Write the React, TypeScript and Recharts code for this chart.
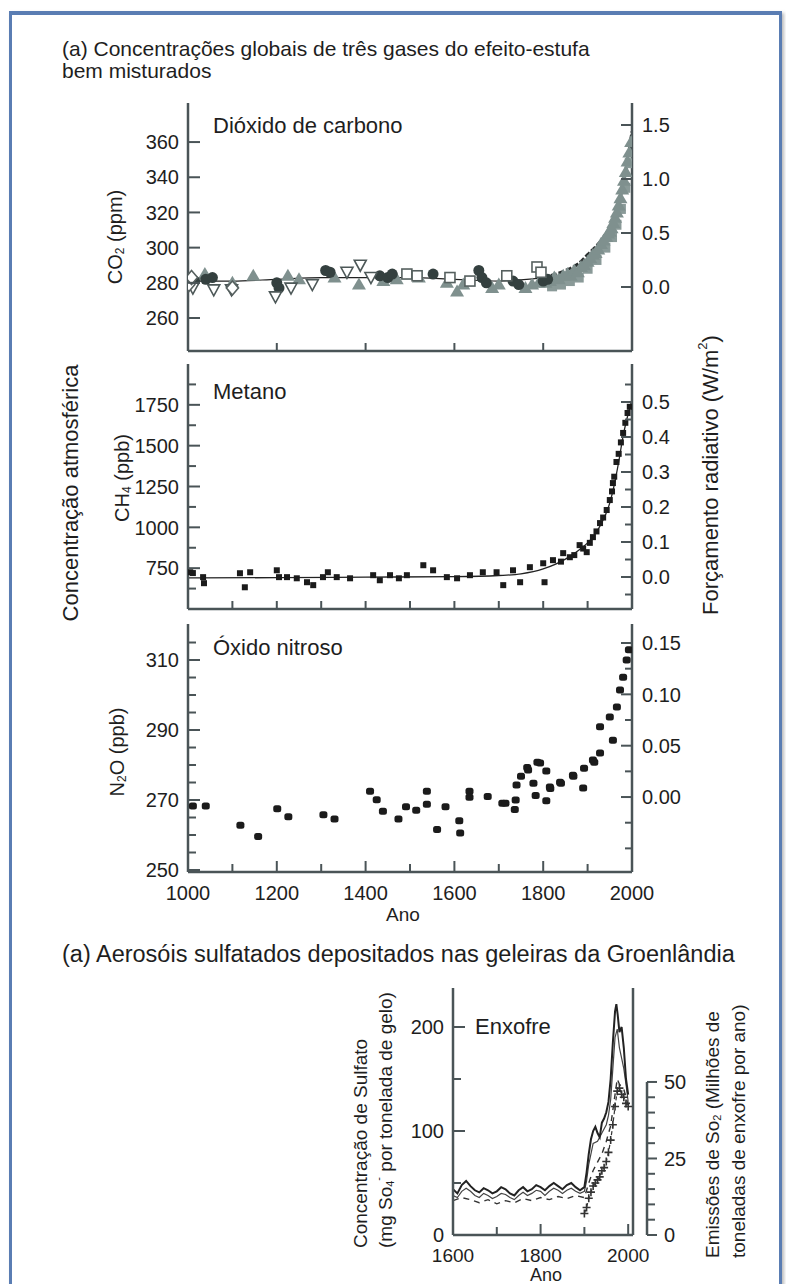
import React from "react";
import { ComposedChart, Line, Scatter, XAxis, YAxis, ReferenceLine } from "recharts";

const FONT = '"Liberation Sans", Arial, Helvetica, sans-serif';
const FRAME = "#4a5457";
const INK = "#1e1e1e";

// ---- ticks / rótulos
const yearLabels = [1000, 1200, 1400, 1600, 1800, 2000];
const ticks200 = [1200, 1400, 1600, 1800];
const ticks100 = [1100, 1200, 1300, 1400, 1500, 1600, 1700, 1800, 1900];
const ticks100Full = [1000, 1100, 1200, 1300, 1400, 1500, 1600, 1700, 1800, 1900, 2000];

const co2Ticks = [260, 280, 300, 320, 340, 360];
const co2RfTicks = [0, 0.5, 1.0, 1.5];
const ch4Ticks = [625, 750, 875, 1000, 1125, 1250, 1375, 1500, 1625, 1750, 1875];
const ch4Labels = [750, 1000, 1250, 1500, 1750];
const ch4RfTicks = [-0.05, 0, 0.05, 0.1, 0.15, 0.2, 0.25, 0.3, 0.35, 0.4, 0.45, 0.5, 0.55];
const ch4RfLabels = [0, 0.1, 0.2, 0.3, 0.4, 0.5];
const n2oTicks = [250, 255, 260, 265, 270, 275, 280, 285, 290, 295, 300, 305, 310, 315];
const n2oLabels = [250, 270, 290, 310];
const n2oRfTicks = [-0.05, -0.025, 0, 0.025, 0.05, 0.075, 0.1, 0.125, 0.15];
const n2oRfLabels = [0, 0.05, 0.1, 0.15];

const sulfYearTicks = [1600, 1700, 1800, 1900, 2000];
const sulfYearLabels = [1600, 1800, 2000];
const sulfTicks = [0, 50, 100, 150, 200];
const sulfLabels = [0, 100, 200];
const so2Ticks = [0, 5, 10, 15, 20, 25, 30, 35, 40, 45, 50];
const so2Labels = [0, 25, 50];

// ---- CO2 (ppm)
const co2Dark = [
  { year: 1015, v: 281 }, { year: 1040, v: 282 }, { year: 1055, v: 283 }, { year: 1200, v: 280 },
  { year: 1205, v: 277 }, { year: 1310, v: 287 }, { year: 1320, v: 286 }, { year: 1432, v: 284 },
  { year: 1450, v: 283 }, { year: 1460, v: 285 }, { year: 1552, v: 285 }, { year: 1655, v: 287 },
  { year: 1662, v: 283 }, { year: 1672, v: 280 }, { year: 1732, v: 281 }, { year: 1745, v: 279 },
  { year: 1800, v: 281 }, { year: 1810, v: 282 },
];
const co2Gray = [
  { year: 1005, v: 281 }, { year: 1038, v: 285 }, { year: 1100, v: 280 }, { year: 1147, v: 284 },
  { year: 1225, v: 284 }, { year: 1250, v: 282 }, { year: 1330, v: 283 }, { year: 1385, v: 279 },
  { year: 1440, v: 281 }, { year: 1470, v: 282 }, { year: 1520, v: 283 }, { year: 1583, v: 280 },
  { year: 1606, v: 275 }, { year: 1620, v: 279 }, { year: 1685, v: 277 }, { year: 1700, v: 279 },
  { year: 1760, v: 277 }, { year: 1775, v: 279 }, { year: 1790, v: 280 },
];
const co2Inv = [
  { year: 1011, v: 277 }, { year: 1058, v: 276 }, { year: 1098, v: 276 }, { year: 1197, v: 272 },
  { year: 1232, v: 277 }, { year: 1280, v: 279 }, { year: 1358, v: 286 }, { year: 1388, v: 290 },
  { year: 1412, v: 283 },
];
const co2Sq = [
  { year: 1493, v: 285 }, { year: 1516, v: 284 }, { year: 1590, v: 283 }, { year: 1635, v: 281 },
  { year: 1718, v: 284 }, { year: 1786, v: 289 }, { year: 1795, v: 286 },
];
const co2Dia = [{ year: 1002, v: 279 }, { year: 1008, v: 283 }, { year: 1100, v: 277 }];
const co2ModernGray = [
  { year: 1805, v: 280 }, { year: 1815, v: 281 }, { year: 1825, v: 283 }, { year: 1835, v: 282 },
  { year: 1845, v: 284 }, { year: 1855, v: 285 }, { year: 1862, v: 284 }, { year: 1870, v: 287 },
  { year: 1878, v: 286 }, { year: 1885, v: 289 }, { year: 1892, v: 290 }, { year: 1900, v: 292 },
  { year: 1906, v: 294 }, { year: 1912, v: 296 }, { year: 1918, v: 297 }, { year: 1924, v: 299 },
  { year: 1930, v: 302 }, { year: 1936, v: 304 }, { year: 1942, v: 306 }, { year: 1946, v: 308 },
  { year: 1950, v: 309 }, { year: 1954, v: 311 }, { year: 1958, v: 314 }, { year: 1962, v: 317 },
  { year: 1966, v: 320 }, { year: 1970, v: 324 }, { year: 1974, v: 328 }, { year: 1978, v: 333 },
  { year: 1982, v: 338 }, { year: 1986, v: 343 }, { year: 1990, v: 349 }, { year: 1994, v: 354 },
  { year: 1998, v: 360 },
];
const co2ModernLow = [
  { year: 1820, v: 278 }, { year: 1840, v: 279 }, { year: 1860, v: 281 }, { year: 1880, v: 283 },
  { year: 1900, v: 288 }, { year: 1920, v: 293 }, { year: 1940, v: 300 }, { year: 1955, v: 306 },
  { year: 1965, v: 313 }, { year: 1975, v: 322 }, { year: 1985, v: 334 }, { year: 1995, v: 348 },
];
const co2Fit = [
  { year: 1000, v: 281 }, { year: 1100, v: 281 }, { year: 1200, v: 282 }, { year: 1300, v: 283 },
  { year: 1400, v: 283 }, { year: 1500, v: 283 }, { year: 1600, v: 282 }, { year: 1700, v: 281 },
  { year: 1800, v: 283 },
];
const co2Modern = [
  { year: 1800, v: 283 }, { year: 1850, v: 287 }, { year: 1880, v: 291 }, { year: 1900, v: 296 },
  { year: 1920, v: 301 }, { year: 1940, v: 307 }, { year: 1950, v: 311 }, { year: 1960, v: 317 },
  { year: 1970, v: 325 }, { year: 1980, v: 336 }, { year: 1990, v: 350 }, { year: 1995, v: 358 },
  { year: 2000, v: 366 },
];

// ---- CH4 (ppb)
const ch4Points = [
  { year: 1005, v: 725 }, { year: 1011, v: 720 }, { year: 1034, v: 695 }, { year: 1036, v: 658 },
  { year: 1117, v: 719 }, { year: 1128, v: 633 }, { year: 1140, v: 725 }, { year: 1200, v: 737 },
  { year: 1205, v: 695 }, { year: 1223, v: 695 }, { year: 1245, v: 688 }, { year: 1268, v: 664 },
  { year: 1282, v: 646 }, { year: 1304, v: 695 }, { year: 1315, v: 725 }, { year: 1335, v: 695 },
  { year: 1365, v: 688 }, { year: 1417, v: 707 }, { year: 1432, v: 676 }, { year: 1455, v: 707 },
  { year: 1475, v: 688 }, { year: 1493, v: 707 }, { year: 1530, v: 768 }, { year: 1552, v: 737 },
  { year: 1583, v: 695 }, { year: 1606, v: 688 }, { year: 1635, v: 707 }, { year: 1664, v: 725 },
  { year: 1695, v: 725 }, { year: 1710, v: 646 }, { year: 1732, v: 737 }, { year: 1748, v: 664 },
  { year: 1770, v: 756 }, { year: 1800, v: 780 }, { year: 1803, v: 664 }, { year: 1822, v: 799 },
  { year: 1840, v: 790 }, { year: 1845, v: 842 }, { year: 1860, v: 817 }, { year: 1870, v: 830 },
  { year: 1882, v: 891 }, { year: 1890, v: 870 }, { year: 1898, v: 848 }, { year: 1905, v: 905 },
  { year: 1912, v: 940 }, { year: 1920, v: 975 }, { year: 1928, v: 1026 }, { year: 1935, v: 1060 },
  { year: 1943, v: 1106 }, { year: 1950, v: 1167 }, { year: 1955, v: 1220 }, { year: 1957, v: 1271 },
  { year: 1960, v: 1310 }, { year: 1965, v: 1400 }, { year: 1970, v: 1450 }, { year: 1975, v: 1520 },
  { year: 1980, v: 1578 }, { year: 1985, v: 1640 }, { year: 1990, v: 1700 }, { year: 1995, v: 1738 },
];
const ch4Fit = [
  { year: 1000, v: 690 }, { year: 1200, v: 692 }, { year: 1400, v: 695 }, { year: 1600, v: 698 },
  { year: 1700, v: 705 }, { year: 1750, v: 715 }, { year: 1800, v: 745 }, { year: 1850, v: 805 },
  { year: 1880, v: 860 }, { year: 1900, v: 905 }, { year: 1920, v: 970 }, { year: 1940, v: 1075 },
  { year: 1950, v: 1150 }, { year: 1960, v: 1260 }, { year: 1970, v: 1400 }, { year: 1980, v: 1560 },
  { year: 1990, v: 1680 }, { year: 2000, v: 1780 },
];

// ---- N2O (ppb)
const n2oPoints = [
  { year: 1011, v: 268.3 }, { year: 1040, v: 268.3 }, { year: 1118, v: 262.8 }, { year: 1158, v: 259.6 },
  { year: 1201, v: 267.5 }, { year: 1226, v: 265.2 }, { year: 1305, v: 265.8 }, { year: 1330, v: 264.6 },
  { year: 1410, v: 272.5 }, { year: 1425, v: 270.1 }, { year: 1439, v: 266.8 }, { year: 1474, v: 264.6 },
  { year: 1491, v: 268.1 }, { year: 1514, v: 267.1 }, { year: 1538, v: 272.5 }, { year: 1538, v: 268.8 },
  { year: 1561, v: 261.6 }, { year: 1580, v: 268.1 }, { year: 1611, v: 264.1 }, { year: 1613, v: 260.6 },
  { year: 1634, v: 272.5 }, { year: 1634, v: 270.8 }, { year: 1675, v: 271 }, { year: 1708, v: 269.1 },
  { year: 1715, v: 269.1 }, { year: 1736, v: 267.3 }, { year: 1738, v: 270 }, { year: 1740, v: 274.3 },
  { year: 1750, v: 276.8 }, { year: 1764, v: 279.3 }, { year: 1766, v: 278.6 }, { year: 1778, v: 274.8 },
  { year: 1783, v: 271.3 }, { year: 1787, v: 280.8 }, { year: 1793, v: 280.6 }, { year: 1807, v: 278.3 },
  { year: 1807, v: 269.8 }, { year: 1815, v: 273.7 }, { year: 1816, v: 273.3 }, { year: 1838, v: 275.1 },
  { year: 1840, v: 274.8 }, { year: 1867, v: 277.1 }, { year: 1868, v: 276.8 }, { year: 1890, v: 273.4 },
  { year: 1892, v: 279.1 }, { year: 1912, v: 281.4 }, { year: 1915, v: 280.8 }, { year: 1928, v: 283.4 },
  { year: 1928, v: 290.9 }, { year: 1950, v: 293.7 }, { year: 1957, v: 287.1 }, { year: 1966, v: 296.6 },
  { year: 1973, v: 301.4 }, { year: 1980, v: 305.1 }, { year: 1988, v: 310 }, { year: 1993, v: 312.9 },
];

// ---- Enxofre (sulfato, mg/t) e emissões de SO2 (Mt S/ano)
const sulfA = [
  { year: 1600, v: 44 }, { year: 1610, v: 40 }, { year: 1620, v: 48 }, { year: 1630, v: 52 },
  { year: 1640, v: 47 }, { year: 1650, v: 43 }, { year: 1660, v: 41 }, { year: 1670, v: 45 },
  { year: 1680, v: 43 }, { year: 1690, v: 40 }, { year: 1700, v: 42 }, { year: 1710, v: 46 },
  { year: 1720, v: 44 }, { year: 1730, v: 40 }, { year: 1740, v: 38 }, { year: 1750, v: 43 },
  { year: 1760, v: 46 }, { year: 1770, v: 42 }, { year: 1780, v: 44 }, { year: 1790, v: 48 },
  { year: 1800, v: 46 }, { year: 1810, v: 43 }, { year: 1820, v: 47 }, { year: 1830, v: 50 },
  { year: 1840, v: 47 }, { year: 1850, v: 44 }, { year: 1860, v: 48 }, { year: 1870, v: 50 },
  { year: 1880, v: 46 }, { year: 1890, v: 43 }, { year: 1900, v: 46 }, { year: 1905, v: 60 },
  { year: 1910, v: 78 }, { year: 1915, v: 92 }, { year: 1920, v: 100 }, { year: 1925, v: 104 },
  { year: 1930, v: 98 }, { year: 1935, v: 94 }, { year: 1940, v: 108 }, { year: 1945, v: 112 },
  { year: 1950, v: 118 }, { year: 1955, v: 128 }, { year: 1960, v: 150 }, { year: 1965, v: 185 },
  { year: 1970, v: 215 }, { year: 1973, v: 222 }, { year: 1976, v: 212 }, { year: 1980, v: 195 },
  { year: 1985, v: 200 }, { year: 1990, v: 180 }, { year: 1995, v: 150 }, { year: 2000, v: 135 },
];
const sulfB = [
  { year: 1600, v: 38 }, { year: 1610, v: 36 }, { year: 1620, v: 42 }, { year: 1630, v: 45 },
  { year: 1640, v: 42 }, { year: 1650, v: 38 }, { year: 1660, v: 36 }, { year: 1670, v: 40 },
  { year: 1680, v: 38 }, { year: 1690, v: 35 }, { year: 1700, v: 37 }, { year: 1710, v: 40 },
  { year: 1720, v: 39 }, { year: 1730, v: 36 }, { year: 1740, v: 34 }, { year: 1750, v: 38 },
  { year: 1760, v: 41 }, { year: 1770, v: 38 }, { year: 1780, v: 40 }, { year: 1790, v: 43 },
  { year: 1800, v: 42 }, { year: 1810, v: 38 }, { year: 1820, v: 42 }, { year: 1830, v: 45 },
  { year: 1840, v: 43 }, { year: 1850, v: 40 }, { year: 1860, v: 43 }, { year: 1870, v: 45 },
  { year: 1880, v: 42 }, { year: 1890, v: 40 }, { year: 1900, v: 42 }, { year: 1905, v: 52 },
  { year: 1910, v: 68 }, { year: 1920, v: 88 }, { year: 1930, v: 90 }, { year: 1940, v: 98 },
  { year: 1950, v: 106 }, { year: 1955, v: 115 }, { year: 1960, v: 130 }, { year: 1965, v: 160 },
  { year: 1970, v: 190 }, { year: 1975, v: 198 }, { year: 1980, v: 180 }, { year: 1985, v: 170 },
  { year: 1990, v: 160 }, { year: 1995, v: 145 }, { year: 2000, v: 128 },
];
const sulfC = [
  { year: 1600, v: 33 }, { year: 1620, v: 36 }, { year: 1640, v: 34 }, { year: 1660, v: 31 },
  { year: 1680, v: 34 }, { year: 1700, v: 30 }, { year: 1720, v: 33 }, { year: 1740, v: 31 },
  { year: 1760, v: 35 }, { year: 1780, v: 33 }, { year: 1800, v: 36 }, { year: 1820, v: 34 },
  { year: 1840, v: 37 }, { year: 1860, v: 35 }, { year: 1880, v: 38 }, { year: 1900, v: 36 },
  { year: 1910, v: 50 }, { year: 1920, v: 62 }, { year: 1930, v: 70 }, { year: 1940, v: 78 },
  { year: 1950, v: 90 }, { year: 1960, v: 105 }, { year: 1970, v: 135 }, { year: 1975, v: 150 },
  { year: 1980, v: 145 }, { year: 1990, v: 140 }, { year: 2000, v: 125 },
];
const so2Emissions = [
  { year: 1900, v: 7 }, { year: 1905, v: 9 }, { year: 1910, v: 12 }, { year: 1915, v: 14 },
  { year: 1920, v: 16 }, { year: 1925, v: 17 }, { year: 1930, v: 18 }, { year: 1935, v: 19 },
  { year: 1940, v: 21 }, { year: 1945, v: 22 }, { year: 1950, v: 24 }, { year: 1955, v: 27 },
  { year: 1960, v: 31 }, { year: 1965, v: 36 }, { year: 1970, v: 42 }, { year: 1975, v: 47 },
  { year: 1980, v: 48 }, { year: 1985, v: 46 }, { year: 1990, v: 45 }, { year: 1995, v: 43 },
  { year: 2000, v: 42 },
];
const so2AxisYear = 2043; // eixo de emissões desenhado fora da caixa

// ---- ticks personalizados (para dentro da caixa)
const near = (list: number[], v: number) => list.some((t) => Math.abs(t - v) < 1e-6);
const axisStyle = { stroke: FRAME, strokeWidth: 2.5 };

function leftTick(labels: number[], fmt = (v: number) => String(v), size = 20) {
  return (p: any) => {
    const v = p.payload.value;
    const lab = near(labels, v);
    return (
      <g>
        <line x1={p.x} x2={p.x + (lab ? 12 : 8)} y1={p.y} y2={p.y} stroke={FRAME} strokeWidth={2} />
        {lab && (
          <text x={p.x - 9} y={p.y} dy="0.36em" textAnchor="end" fontSize={size} fill={INK}>
            {fmt(v)}
          </text>
        )}
      </g>
    );
  };
}

function rightTick(labels: number[], fmt = (v: number) => String(v), size = 20) {
  return (p: any) => {
    const v = p.payload.value;
    const lab = near(labels, v);
    return (
      <g>
        <line x1={p.x} x2={p.x - (lab ? 11 : 7)} y1={p.y} y2={p.y} stroke={FRAME} strokeWidth={2} />
        {lab && (
          <text x={p.x + 10} y={p.y} dy="0.36em" textAnchor="start" fontSize={size} fill={INK}>
            {fmt(v)}
          </text>
        )}
      </g>
    );
  };
}

function bottomTick(labels: number[], gap = 21, size = 20) {
  return (p: any) => {
    const v = p.payload.value;
    const lab = near(labels, v);
    return (
      <g>
        <line x1={p.x} x2={p.x} y1={p.y} y2={p.y - (lab ? 11 : 8)} stroke={FRAME} strokeWidth={2} />
        {lab && (
          <text x={p.x} y={p.y + gap} dy="0.36em" textAnchor="middle" fontSize={size} fill={INK}>
            {v}
          </text>
        )}
      </g>
    );
  };
}

const topTick = (p: any) => (
  <line x1={p.x} x2={p.x} y1={p.y} y2={p.y + 9} stroke={FRAME} strokeWidth={2} />
);

function so2Tick(p: any) {
  const v = p.payload.value;
  const lab = near(so2Labels, v);
  return (
    <g>
      <line x1={p.x} x2={p.x + (lab ? 10 : 8)} y1={p.y} y2={p.y} stroke={FRAME} strokeWidth={2} />
      {lab && (
        <text x={p.x + 17} y={p.y} dy="0.36em" textAnchor="start" fontSize={20} fill={INK}>
          {v}
        </text>
      )}
    </g>
  );
}

// ---- marcadores
const darkBlob = (p: any) => <circle cx={p.cx} cy={p.cy} r={5.5} fill="#34403f" />;
const grayTri = (p: any) => (
  <polygon points={`${p.cx},${p.cy - 7} ${p.cx - 7},${p.cy + 5} ${p.cx + 7},${p.cy + 5}`} fill="#7f908e" />
);
const openInv = (p: any) => (
  <polygon
    points={`${p.cx - 6},${p.cy - 5} ${p.cx + 6},${p.cy - 5} ${p.cx},${p.cy + 6}`}
    fill="#fff"
    stroke="#4d5858"
    strokeWidth={1.6}
  />
);
const openSq = (p: any) => (
  <rect x={p.cx - 5} y={p.cy - 5} width={10} height={10} fill="#fff" stroke="#56605f" strokeWidth={1.6} />
);
const openDia = (p: any) => (
  <polygon
    points={`${p.cx},${p.cy - 7} ${p.cx + 6},${p.cy} ${p.cx},${p.cy + 7} ${p.cx - 6},${p.cy}`}
    fill="#fff"
    stroke="#56605f"
    strokeWidth={1.6}
  />
);
const graySq = (p: any) => <rect x={p.cx - 5} y={p.cy - 5} width={10} height={10} fill="#8a9a98" />;
const blackSq = (p: any) => <rect x={p.cx - 3} y={p.cy - 3} width={6} height={6} fill="#1b1b1b" />;
const blackDot = (p: any) => <rect x={p.cx - 4} y={p.cy - 3.5} width={8} height={7} rx={2.5} fill="#1b1b1b" />;
const plusDot = (p: any) => (
  <path
    key={`p${p.index}`}
    d={`M${p.cx - 4},${p.cy}H${p.cx + 4}M${p.cx},${p.cy - 4}V${p.cy + 4}`}
    stroke="#333"
    strokeWidth={1.6}
  />
);

type PanelProps = {
  top: number;
  plotH: number;
  bottomH?: number;
  topTicks?: number[];
  bottomTicks: number[];
  bottomLabels?: number[];
  yDomain: [number, number];
  yTicks: number[];
  yLabels: number[];
  rDomain: [number, number];
  rTicks: number[];
  rLabels: number[];
  rFmt: (v: number) => string;
  children: React.ReactNode;
};

function GasPanel(props: PanelProps) {
  const { top, plotH, bottomH = 5, topTicks, bottomTicks, bottomLabels = [] } = props;
  return (
    <div style={{ position: "absolute", left: 0, top: top - 5 }}>
      <ComposedChart width={786} height={plotH + 5 + bottomH} margin={{ top: 5, right: 94, bottom: 0, left: 128 }}>
        <XAxis
          xAxisId="b"
          type="number"
          dataKey="year"
          domain={[1000, 2000]}
          allowDataOverflow
          ticks={bottomTicks}
          interval={0}
          height={bottomH}
          tickSize={0}
          tickMargin={0}
          tickLine={false}
          axisLine={axisStyle}
          tick={bottomTick(bottomLabels)}
        />
        <XAxis
          xAxisId="t"
          orientation="top"
          type="number"
          dataKey="year"
          domain={[1000, 2000]}
          allowDataOverflow
          ticks={topTicks}
          interval={0}
          height={0}
          tickSize={0}
          tickMargin={0}
          tickLine={false}
          axisLine={axisStyle}
          tick={topTicks ? topTick : false}
        />
        <YAxis
          yAxisId="l"
          type="number"
          domain={props.yDomain}
          allowDataOverflow
          ticks={props.yTicks}
          interval={0}
          width={60}
          tickSize={0}
          tickMargin={0}
          tickLine={false}
          axisLine={axisStyle}
          tick={leftTick(props.yLabels)}
        />
        <YAxis
          yAxisId="r"
          orientation="right"
          type="number"
          domain={props.rDomain}
          allowDataOverflow
          ticks={props.rTicks}
          interval={0}
          width={60}
          tickSize={0}
          tickMargin={0}
          tickLine={false}
          axisLine={axisStyle}
          tick={rightTick(props.rLabels, props.rFmt)}
        />
        {props.children}
      </ComposedChart>
    </div>
  );
}

const S = { xAxisId: "b", yAxisId: "l", dataKey: "v", isAnimationActive: false } as const;

function Label({ x, y, size = 22, children }: { x: number; y: number; size?: number; children: React.ReactNode }) {
  return (
    <div style={{ position: "absolute", left: x, top: y - size * 0.5, fontSize: size, lineHeight: `${size}px`, color: INK, whiteSpace: "nowrap" }}>
      {children}
    </div>
  );
}

export default function App() {
  return (
    <div style={{ position: "fixed", left: 0, top: 0, width: 786, height: 1284, overflow: "hidden", background: "#fff", fontFamily: FONT }}>
      <div
        style={{
          position: "absolute",
          left: 9,
          top: 11,
          width: 773,
          height: 1320,
          boxSizing: "border-box",
          borderTop: "4px solid #5a7db3",
          borderLeft: "3px solid #5a7db3",
          borderRight: "3px solid #5a7db3",
          boxShadow: "2px 2px 3px rgba(120,120,120,0.5)",
        }}
      />

      <Label x={62} y={48} size={21}>(a) Concentrações globais de três gases do efeito-estufa</Label>
      <Label x={62} y={70} size={21}>bem misturados</Label>

      <GasPanel
        top={103}
        plotH={248}
        bottomTicks={ticks200}
        yDomain={[241.25, 382.2]}
        yTicks={co2Ticks}
        yLabels={co2Ticks}
        rDomain={[-0.593, 1.704]}
        rTicks={co2RfTicks}
        rLabels={co2RfTicks}
        rFmt={(v) => v.toFixed(1)}
      >
        <Line {...S} data={co2Fit} type="monotone" stroke="#222" strokeWidth={1.2} dot={false} />
        <Scatter {...S} data={co2ModernLow} shape={graySq} />
        <Scatter {...S} data={co2ModernGray} shape={grayTri} />
        <Scatter {...S} data={co2Gray} shape={grayTri} />
        <Scatter {...S} data={co2Dark} shape={darkBlob} />
        <Scatter {...S} data={co2Inv} shape={openInv} />
        <Scatter {...S} data={co2Sq} shape={openSq} />
        <Scatter {...S} data={co2Dia} shape={openDia} />
        <Line {...S} data={co2Modern} type="monotone" stroke="#2a2f2f" strokeWidth={3} strokeDasharray="6 2" dot={false} />
      </GasPanel>

      <GasPanel
        top={364}
        plotH={245}
        topTicks={ticks100}
        bottomTicks={ticks100}
        yDomain={[500, 2000]}
        yTicks={ch4Ticks}
        yLabels={ch4Labels}
        rDomain={[-0.0914, 0.6086]}
        rTicks={ch4RfTicks}
        rLabels={ch4RfLabels}
        rFmt={(v) => v.toFixed(1)}
      >
        <Line {...S} data={ch4Fit} type="monotone" stroke="#222" strokeWidth={1.3} dot={false} />
        <Scatter {...S} data={ch4Points} shape={blackSq} />
      </GasPanel>

      <GasPanel
        top={624}
        plotH={248}
        bottomH={50}
        topTicks={ticks100}
        bottomTicks={ticks100Full}
        bottomLabels={yearLabels}
        yDomain={[249.43, 320.29]}
        yTicks={n2oTicks}
        yLabels={n2oLabels}
        rDomain={[-0.073, 0.1685]}
        rTicks={n2oRfTicks}
        rLabels={n2oRfLabels}
        rFmt={(v) => v.toFixed(2)}
      >
        <Scatter {...S} data={n2oPoints} shape={blackDot} />
      </GasPanel>

      <Label x={213} y={126} size={22}>Dióxido de carbono</Label>
      <Label x={213} y={392} size={22}>Metano</Label>
      <Label x={213} y={648} size={22}>Óxido nitroso</Label>
      <Label x={386} y={914} size={19}>Ano</Label>

      <Label x={62} y={955} size={23.5}>(a) Aerosóis sulfatados depositados nas geleiras da Groenlândia</Label>

      <div style={{ position: "absolute", left: 0, top: 983 }}>
        <ComposedChart width={786} height={247 + 5 + 45} margin={{ top: 5, right: 49, bottom: 0, left: 393 }}>
          <XAxis
            xAxisId="b"
            type="number"
            dataKey="year"
            domain={[1600, 2011]}
            allowDataOverflow
            ticks={sulfYearTicks}
            interval={0}
            height={45}
            tickSize={0}
            tickMargin={0}
            tickLine={false}
            axisLine={axisStyle}
            tick={bottomTick(sulfYearLabels, 20, 19)}
          />
          <XAxis
            xAxisId="t"
            orientation="top"
            type="number"
            dataKey="year"
            domain={[1600, 2011]}
            allowDataOverflow
            ticks={sulfYearTicks}
            interval={0}
            height={0}
            tickSize={0}
            tickMargin={0}
            tickLine={false}
            axisLine={axisStyle}
            tick={topTick}
          />
          <YAxis
            yAxisId="l"
            type="number"
            domain={[0, 237.5]}
            allowDataOverflow
            ticks={sulfTicks}
            interval={0}
            width={60}
            tickSize={0}
            tickMargin={0}
            tickLine={false}
            axisLine={axisStyle}
            tick={leftTick(sulfLabels)}
          />
          <YAxis yAxisId="rf" orientation="right" type="number" domain={[0, 1]} width={14} tick={false} tickLine={false} axisLine={axisStyle} />
          <YAxis
            yAxisId="so2"
            orientation="right"
            type="number"
            domain={[0, 80.7]}
            allowDataOverflow
            ticks={so2Ticks}
            interval={0}
            width={90}
            tickSize={0}
            tickMargin={0}
            tickLine={false}
            axisLine={false}
            tick={so2Tick}
          />
          <ReferenceLine
            xAxisId="b"
            yAxisId="so2"
            segment={[{ x: so2AxisYear, y: 0 }, { x: so2AxisYear, y: 50 }]}
            stroke={FRAME}
            strokeWidth={2.5}
            ifOverflow="visible"
          />
          <Line {...S} data={sulfC} type="linear" stroke="#333" strokeWidth={1.4} strokeDasharray="6 5" dot={false} />
          <Line {...S} data={sulfB} type="linear" stroke="#444" strokeWidth={1.2} dot={false} />
          <Line {...S} data={sulfA} type="linear" stroke="#222" strokeWidth={2} dot={false} />
          <Line
            xAxisId="b"
            yAxisId="so2"
            dataKey="v"
            data={so2Emissions}
            type="linear"
            stroke="#333"
            strokeWidth={1.2}
            strokeDasharray="4 3"
            dot={plusDot}
            isAnimationActive={false}
          />
        </ComposedChart>
      </div>

      <Label x={475} y={1027} size={22}>Enxofre</Label>
      <Label x={530} y={1275} size={18}>Ano</Label>

      <svg width={786} height={1284} style={{ position: "absolute", left: 0, top: 0, pointerEvents: "none" }}>
        <g fill={INK} fontFamily={FONT}>
          <text transform="translate(70,493) rotate(-90)" textAnchor="middle" dominantBaseline="central" fontSize={22}>
            Concentração atmosférica
          </text>
          <text transform="translate(710,475) rotate(-90)" textAnchor="middle" dominantBaseline="central" fontSize={22}>
            Forçamento radiativo (W/m<tspan fontSize={13} dy={-8}>2</tspan>
            <tspan dy={8}>)</tspan>
          </text>
          <text transform="translate(115,237) rotate(-90)" textAnchor="middle" dominantBaseline="central" fontSize={20}>
            CO<tspan fontSize={12} dy={5}>2</tspan>
            <tspan dy={-5}> (ppm)</tspan>
          </text>
          <text transform="translate(122,478) rotate(-90)" textAnchor="middle" dominantBaseline="central" fontSize={20}>
            CH<tspan fontSize={12} dy={5}>4</tspan>
            <tspan dy={-5}> (ppb)</tspan>
          </text>
          <text transform="translate(117,752) rotate(-90)" textAnchor="middle" dominantBaseline="central" fontSize={20}>
            N<tspan fontSize={12} dy={5}>2</tspan>
            <tspan dy={-5}>O (ppb)</tspan>
          </text>
          <text transform="translate(360,1248) rotate(-90)" textAnchor="start" dominantBaseline="central" fontSize={19}>
            Concentração de Sulfato
          </text>
          <text transform="translate(385,1248) rotate(-90)" textAnchor="start" dominantBaseline="central" fontSize={19}>
            (mg So<tspan fontSize={11} dy={5}>4</tspan>
            <tspan fontSize={11} dy={-12}>-</tspan>
            <tspan dy={7}> por tonelada de gelo)</tspan>
          </text>
          <text transform="translate(712,1258) rotate(-90)" textAnchor="start" dominantBaseline="central" fontSize={19}>
            Emissões de So<tspan fontSize={11} dy={5}>2</tspan>
            <tspan dy={-5}> (Milhões de</tspan>
          </text>
          <text transform="translate(738,1258) rotate(-90)" textAnchor="start" dominantBaseline="central" fontSize={19}>
            toneladas de enxofre por ano)
          </text>
        </g>
      </svg>
    </div>
  );
}
